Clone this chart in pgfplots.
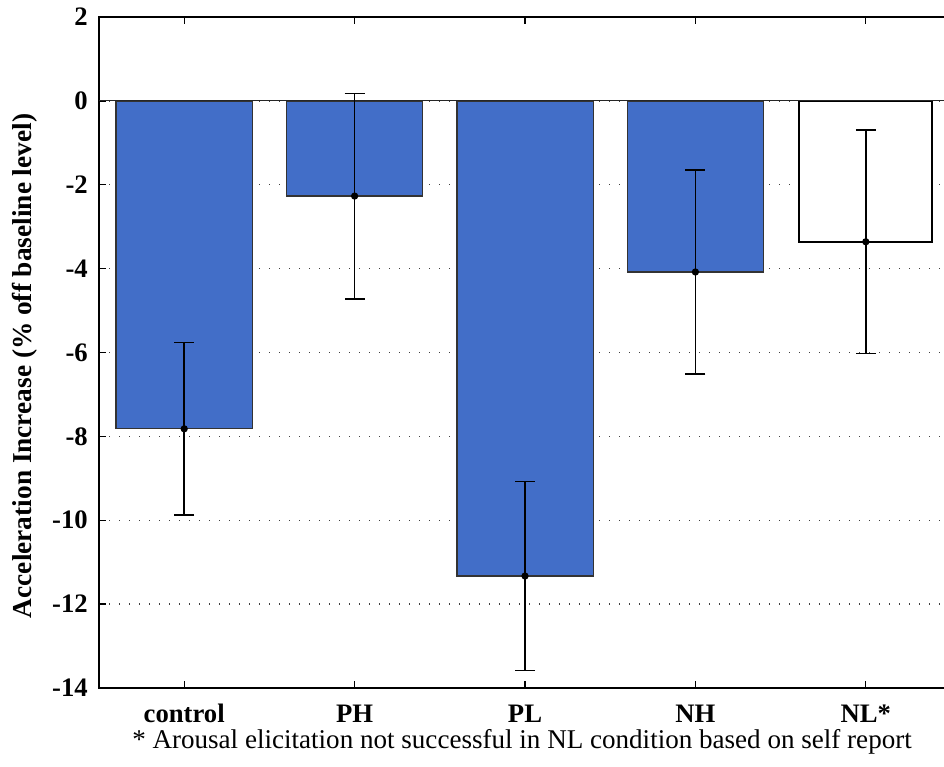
\documentclass[border=0pt]{standalone}
\usepackage{fontspec}
\setmainfont{Liberation Serif}
\usepackage{pgfplots}
\pgfplotsset{compat=1.18}
\definecolor{barblue}{RGB}{66,110,200}
\begin{document}
\begin{tikzpicture}
\begin{axis}[
  at={(0,0)}, anchor=south west,
  scale only axis,
  width=639pt, height=503.25pt,
  xmin=0.5, xmax=5.5,
  ymin=-14, ymax=2,
  xtick={1,2,3,4,5},
  xticklabels={control,PH,PL,NH,NL*},
  ytick={-14,-12,-10,-8,-6,-4,-2,0,2},
  yticklabels={-14,-12,-10,-8,-6,-4,-2,0,2},
  ticklabel style={font=\fontsize{20}{22}\selectfont\bfseries},
  xticklabel style={anchor=base, inner sep=0pt, yshift=-25.5pt},
  yticklabel style={anchor=east, inner sep=0pt, xshift=-8.25pt},
  tick align=inside,
  major tick length=5.5pt,
  tick style={black, line width=1pt},
  axis line style={line width=1.2pt},
  ymajorgrids,
  grid style={black!75, line width=1.1pt, dash pattern=on 1.1pt off 6.4pt},
  ylabel={Acceleration Increase (\% off baseline level)},
  ylabel style={at={(rel axis cs:-0.0869,0.48)}, anchor=center, font=\fontsize{20.5}{22}\selectfont\bfseries},
  clip=false,
]
% bars (blue)
\addplot[ybar, bar width=0.8, fill=barblue, draw=black!80, line width=1pt]
  coordinates {(1,-7.82) (2,-2.27) (3,-11.33) (4,-4.08)};
% bar NL* (white)
\addplot[ybar, bar width=0.78, fill=white, draw=black, line width=1.6pt]
  coordinates {(5,-3.36)};
% baseline at 0
\addplot[black!85, line width=0.9pt] coordinates {(0.5,0) (5.5,0)};
% error bars with mean markers
\addplot[black, line width=1pt, mark=*, mark size=2.2pt, only marks,
  error bars/.cd, y dir=both, y explicit,
  error bar style={line width=1.1pt, black},
  error mark options={rotate=90, line width=1.1pt, mark size=7.5pt}]
  coordinates {
    (1,-7.82) +- (0,2.06)
    (2,-2.27) +- (0,2.45)
    (3,-11.33) +- (0,2.25)
    (4,-4.08) +- (0,2.43)
    (5,-3.36) +- (0,2.67)
  };
\node[font=\fontsize{20.3}{22}\selectfont, anchor=base] at (rel axis cs:0.4965,-0.0900)
  {* Arousal elicitation not successful in NL condition based on self report};
\end{axis}
\pgfresetboundingbox
\path (-74.25pt,-58.5pt) rectangle (633.75pt,516pt);
\end{tikzpicture}
\end{document}
